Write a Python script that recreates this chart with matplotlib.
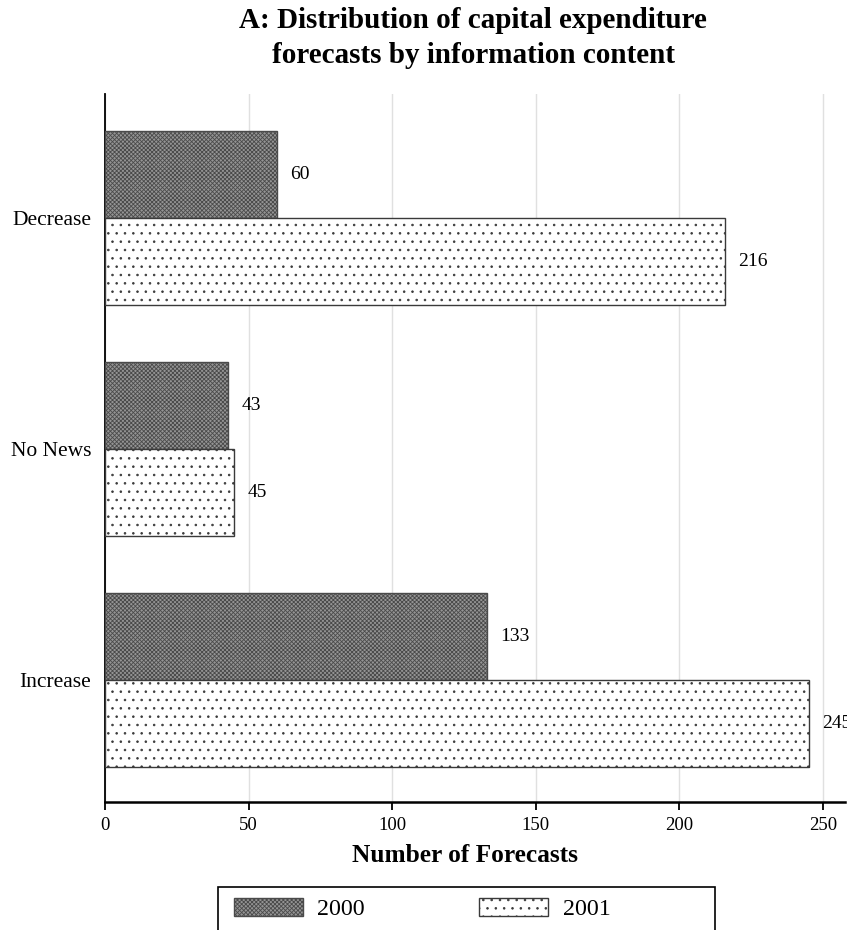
import matplotlib
matplotlib.use("Agg")
import matplotlib.pyplot as plt
from matplotlib.patches import Rectangle
import numpy as np

plt.rcParams['font.family'] = ['Liberation Serif', 'DejaVu Serif']
plt.rcParams['hatch.linewidth'] = 0.6

categories = ["Increase", "No News", "Decrease"]
series_names = ["2000", "2001"]
values_2000 = [133, 43, 60]
values_2001 = [245, 45, 216]
xticks = [0, 50, 100, 150, 200, 250]

fig = plt.figure(figsize=(8.47, 9.30), dpi=100)
W, H = 847, 930
ax = fig.add_axes([105 / W, 1 - 802 / H, 740 / W, 708 / H])

y = np.arange(len(categories))
h = 0.377
b1 = ax.barh(y + h / 2, values_2000, height=h, facecolor='#949494', edgecolor='#4a4a4a',
             hatch='x' * 8, linewidth=1.0, label=series_names[0], zorder=3)
b2 = ax.barh(y - h / 2, values_2001, height=h, facecolor='white', edgecolor='#3a3a3a',
             hatch='..', linewidth=1.0, label=series_names[1], zorder=3)
for bars in (b1, b2):
    for r in bars:
        ax.annotate(f"{int(r.get_width())}", (r.get_width(), r.get_y() + r.get_height() / 2),
                    xytext=(9.5, 0), textcoords='offset points', va='center', ha='left',
                    fontsize=14, annotation_clip=False)

ax.set_xlim(0, 257.7)
ax.set_ylim(-0.53, 2.537)
ax.set_yticks(y)
ax.set_yticklabels(categories, fontsize=15.5)
ax.tick_params(axis='y', length=0, pad=10)
ax.set_xticks(xticks)
ax.tick_params(axis='x', labelsize=13.5, length=6, width=1.3, direction='out', pad=5)
ax.xaxis.grid(True, color='#e0e0e0', linewidth=1.0, zorder=0)
ax.set_axisbelow(True)
for s in ('top', 'right'):
    ax.spines[s].set_visible(False)
ax.spines['left'].set_linewidth(1.3)
ax.spines['bottom'].set_linewidth(1.8)

ax.set_xlabel("Number of Forecasts", fontsize=18.3, fontweight='bold')
ax.xaxis.label.set_va('center')
ax.xaxis.set_label_coords((465 - 105) / 740, (802 - 856) / 708)

fig.text(473 / W, 1 - 63 / H, "A: Distribution of capital expenditure\nforecasts by information content",
         fontsize=21, fontweight='bold', ha='center', va='baseline', multialignment='center',
         linespacing=1.38)

leg = fig.legend(handles=[b1, b2], labels=series_names, loc='center left',
                 bbox_to_anchor=(234 / W, 1 - 909 / H), ncol=2, fontsize=17.3, frameon=False,
                 handlelength=2.875, handleheight=0.83, handletextpad=0.6,
                 columnspacing=4.75, borderpad=0, borderaxespad=0)
fig.patches.append(Rectangle((218 / W, 1 - 950 / H), (715 - 218) / W, (950 - 887) / H,
                             transform=fig.transFigure, fill=False, edgecolor='black',
                             linewidth=1.2))

fig.savefig("out.png", dpi=100)
